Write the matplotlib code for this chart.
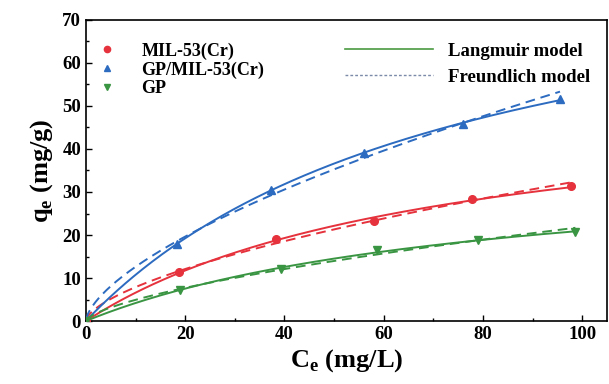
import numpy as np
import matplotlib
matplotlib.use("Agg")
import matplotlib.pyplot as plt
from matplotlib.lines import Line2D

# ---- data ----
mil_ce = [0, 18.8, 38.3, 58.0, 77.7, 97.8]
mil_qe = [0, 11.3, 19.0, 23.3, 28.3, 31.3]
gpmil_ce = [0, 18.4, 37.2, 56.0, 75.9, 95.5]
gpmil_qe = [0, 18.0, 30.5, 39.0, 45.8, 51.6]
gp_ce = [0, 19.0, 39.3, 58.7, 79.0, 98.6]
gp_qe = [0, 7.3, 12.0, 16.5, 18.8, 20.7]

series_names = ["MIL-53(Cr)", "GP/MIL-53(Cr)", "GP"]
colors = ["#e5323c", "#2c6bc0", "#3a9543"]
markers = ["o", "^", "v"]

x_ticks = [0, 20, 40, 60, 80, 100]
y_ticks = [0, 10, 20, 30, 40, 50, 60, 70]

plt.rcParams['font.family'] = ['Liberation Serif', 'DejaVu Serif']
plt.rcParams['font.weight'] = 'bold'

fig = plt.figure(figsize=(6.09, 3.84), dpi=100)
ax = fig.add_axes([0.141, 0.164, 0.856, 0.784])


def fit_langmuir(c, q):
    c = np.asarray(c[1:], float); q = np.asarray(q[1:], float)
    slope, inter = np.polyfit(c, c / q, 1)
    qm = 1 / slope
    k = 1 / (inter * qm)
    return qm, k


def fit_freundlich(c, q):
    c = np.asarray(c[1:], float); q = np.asarray(q[1:], float)
    n_inv, lnk = np.polyfit(np.log(c), np.log(q), 1)
    return np.exp(lnk), n_inv


data = [(mil_ce, mil_qe), (gpmil_ce, gpmil_qe), (gp_ce, gp_qe)]
for (ce, qe), name, col, mk in zip(data, series_names, colors, markers):
    cfit = np.linspace(0, max(ce), 300)
    qm, k = fit_langmuir(ce, qe)
    ax.plot(cfit, qm * k * cfit / (1 + k * cfit), color=col, lw=1.4, zorder=3)
    kf, ni = fit_freundlich(ce, qe)
    cf2 = np.linspace(0.05, max(ce), 300)
    ax.plot(cf2, kf * cf2 ** ni, color=col, lw=1.4, ls=(0, (5, 3)), zorder=3)
    ax.plot(ce, qe, ls='none', marker=mk, color=col, ms=5.5, zorder=4)

ax.set_xlim(0, 105)
ax.set_ylim(0, 70)
ax.set_xticks(x_ticks)
ax.set_yticks(y_ticks)
ax.set_xticks(np.arange(10, 105, 20), minor=True)
ax.set_yticks(np.arange(5, 70, 10), minor=True)
ax.tick_params(which='both', direction='in', labelsize=13.5, width=1.0)
ax.tick_params(which='major', length=4)
ax.tick_params(which='minor', length=2.5)
for s in ax.spines.values():
    s.set_linewidth(1.2)
for lab in ax.get_xticklabels() + ax.get_yticklabels():
    lab.set_fontweight('bold')

ax.set_xlabel(r"C$_\mathregular{e}$ (mg/L)", fontsize=19, fontweight='bold', labelpad=3)
ax.set_ylabel(r"q$_\mathregular{e}$ (mg/g)", fontsize=19, fontweight='bold', labelpad=5)

h1 = [Line2D([], [], ls='none', marker=m, color=c, ms=4.5) for m, c in zip(markers, colors)]
leg1 = ax.legend(h1, series_names, loc='upper left', bbox_to_anchor=(-0.025, 0.98),
                 frameon=False, prop={'weight': 'bold', 'size': 13},
                 handletextpad=0.9, labelspacing=0.1)
ax.add_artist(leg1)

h2 = [Line2D([], [], color="#4a9a3f", lw=1.2),
      Line2D([], [], color="#7a8aa8", lw=1.0, ls=(0, (2, 1.5)))]
ax.legend(h2, ["Langmuir model", "Freundlich model"], loc='upper right',
          bbox_to_anchor=(1.0, 0.98), frameon=False,
          prop={'weight': 'bold', 'size': 13.5}, handlelength=4.7,
          handletextpad=0.8, labelspacing=0.45)

fig.savefig("out.png", dpi=100)
